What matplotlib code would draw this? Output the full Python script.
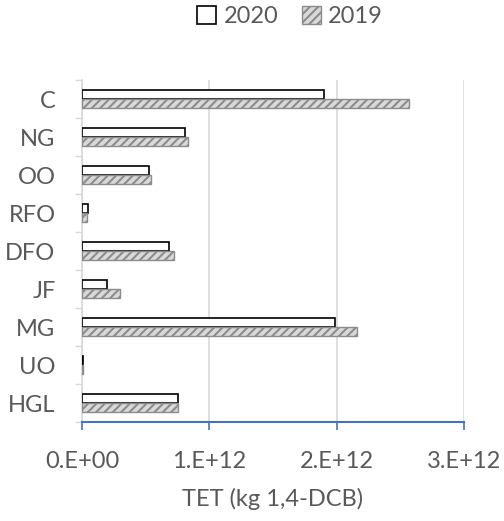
import matplotlib.pyplot as plt
import numpy as np

plt.rcParams['font.family'] = ['Lato', 'DejaVu Sans']
plt.rcParams['hatch.linewidth'] = 1.5

categories = ['C', 'NG', 'OO', 'RFO', 'DFO', 'JF', 'MG', 'UO', 'HGL']
tet_2020 = [1.90e12, 0.81e12, 0.53e12, 0.05e12, 0.68e12, 0.20e12, 1.99e12, 0.008e12, 0.755e12]
tet_2019 = [2.57e12, 0.83e12, 0.54e12, 0.04e12, 0.72e12, 0.30e12, 2.16e12, 0.005e12, 0.755e12]
xticks = [0, 1e12, 2e12, 3e12]
xtick_labels = ['0.E+00', '1.E+12', '2.E+12', '3.E+12']

text_color = '#595959'

fig = plt.figure(figsize=(5.04, 5.21), dpi=100)
ax = fig.add_axes([82 / 504, 99 / 521, 382 / 504, 342 / 521])

y = np.arange(len(categories))
h = 0.24
ax.barh(y - h / 2, tet_2020, height=h, color='white', edgecolor='black',
        linewidth=1.2, label='2020', zorder=3)
ax.barh(y + h / 2, tet_2019, height=h, color='#d9d9d9', edgecolor='#8c8c8c',
        hatch='////', linewidth=1.0, label='2019', zorder=3)

ax.set_ylim(len(categories) - 0.5, -0.5)
ax.set_yticks(y)
ax.set_yticklabels(categories)
ax.set_yticks(np.arange(len(categories) + 1) - 0.5, minor=True)
ax.tick_params(axis='y', which='major', length=0, pad=19, labelsize=17, labelcolor=text_color)
ax.tick_params(axis='y', which='minor', length=5, color='#d9d9d9', width=1)

ax.set_xlim(0, 3e12)
ax.set_xticks(xticks)
ax.set_xticklabels(xtick_labels)
ax.tick_params(axis='x', length=6, color='#4472c4', width=1.2, pad=15,
               labelsize=17, labelcolor=text_color)
ax.grid(axis='x', color='#d9d9d9', linewidth=1.2, zorder=0)

for side in ['top', 'right']:
    ax.spines[side].set_visible(False)
ax.spines['left'].set_color('#d9d9d9')
ax.spines['left'].set_linewidth(1.2)
ax.spines['bottom'].set_color('#4472c4')
ax.spines['bottom'].set_linewidth(1.5)

ax.set_xlabel('TET (kg 1,4-DCB)', fontsize=17, color=text_color, labelpad=11)

fig.legend(loc='upper center', bbox_to_anchor=(290 / 504, 1.03), ncol=2, frameon=False,
           fontsize=17, labelcolor=text_color, handlelength=0.8, handleheight=0.8,
           handletextpad=0.3, columnspacing=1.0)

fig.savefig('out.png', dpi=100)
